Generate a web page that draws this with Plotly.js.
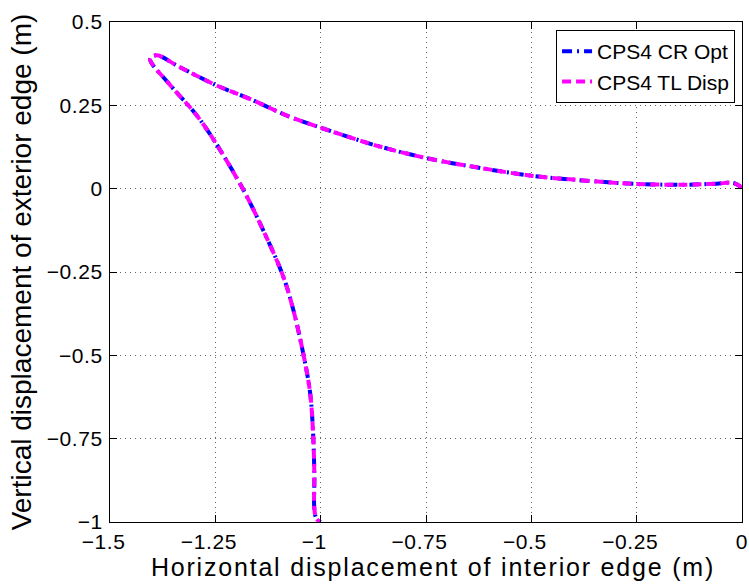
<!DOCTYPE html>
<html>
<head>
<meta charset="utf-8">
<script src="https://cdn.plot.ly/plotly-3.0.1.min.js"></script>
<style>
  html, body { margin: 0; padding: 0; background: #fff; }
  #chart { width: 749px; height: 584px; }
  .xtitle { letter-spacing: 1.8px; }
  .g-xtitle { transform: translateX(7px); }
  .xtick text, .ytick text { letter-spacing: 0.6px; }
</style>
</head>
<body>
<div id="chart"></div>
<script>
// Series
const seriesNames = ["CPS4 CR Opt", "CPS4 TL Disp"];

const xCR = [0, -0.02, -0.06, -0.13, -0.25, -0.37, -0.5, -0.62, -0.75, -0.87, -0.95, -0.998, -1.076, -1.164, -1.251, -1.338, -1.389, -1.405, -1.358, -1.302, -1.267, -1.188, -1.137, -1.089, -1.065, -1.04, -1.025, -1.018, -1.015, -1.015, -1.01, -1.0];
const yCR = [0.003, 0.017, 0.015, 0.012, 0.014, 0.024, 0.039, 0.062, 0.092, 0.13, 0.162, 0.182, 0.217, 0.267, 0.312, 0.367, 0.4, 0.39, 0.312, 0.232, 0.172, 0.007, -0.123, -0.263, -0.363, -0.503, -0.613, -0.733, -0.863, -0.96, -0.99, -1.0];

const xTL = [0, -0.02, -0.06, -0.13, -0.25, -0.37, -0.5, -0.62, -0.75, -0.87, -0.95, -0.998, -1.076, -1.164, -1.251, -1.338, -1.389, -1.405, -1.358, -1.302, -1.267, -1.188, -1.137, -1.089, -1.065, -1.04, -1.025, -1.018, -1.015, -1.015, -1.01, -1.0];
const yTL = [0.003, 0.017, 0.015, 0.012, 0.014, 0.024, 0.039, 0.062, 0.092, 0.13, 0.162, 0.182, 0.217, 0.267, 0.312, 0.367, 0.4, 0.39, 0.312, 0.232, 0.172, 0.007, -0.123, -0.263, -0.363, -0.503, -0.613, -0.733, -0.863, -0.96, -0.99, -1.0];

const xTickVals = [-1.5, -1.25, -1, -0.75, -0.5, -0.25, 0];
const xTickText = ["\u22121.5", "\u22121.25", "\u22121", "\u22120.75", "\u22120.5", "\u22120.25", "0"];
const yTickVals = [-1, -0.75, -0.5, -0.25, 0, 0.25, 0.5];
const yTickText = ["\u22121", "\u22120.75", "\u22120.5", "\u22120.25", "0", "0.25", "0.5"];

const xTitle = "Horizontal displacement of interior edge (m)";
const yTitle = "Vertical displacement of exterior edge (m)";

const FONT = "'Liberation Sans', Arial, Helvetica, sans-serif";

// MATLAB centres the number and lets the minus sign hang to the left:
// pad negative labels on the right by the width of the minus sign.
const xTickShown = xTickText.map(t => t.startsWith("\u2212") ? t + "\u00a0\u00a0" : t);

const traces = [
  {
    x: xCR, y: yCR, name: seriesNames[0], mode: "lines",
    line: { color: "#0000ff", width: 4, dash: "10px,5px,2px,5px", shape: "spline", smoothing: 1 }
  },
  {
    x: xTL, y: yTL, name: seriesNames[1], mode: "lines",
    line: { color: "#ff00ff", width: 4, dash: "9px,5px", shape: "spline", smoothing: 1 }
  }
];

const axisCommon = {
  showline: true, linecolor: "#000", linewidth: 1, mirror: "ticks",
  ticks: "inside", ticklen: 7, tickcolor: "#000", tickwidth: 1,
  showgrid: true, gridcolor: "#666", gridwidth: 1, griddash: "1px,4px",
  zeroline: false, tickmode: "array",
  tickfont: { family: FONT, size: 21, color: "#000" }
};

const layout = {
  width: 749, height: 584,
  margin: { l: 110, r: 7, t: 22, b: 62 },
  paper_bgcolor: "#fff", plot_bgcolor: "#fff",
  showlegend: true,
  font: { family: FONT, color: "#000" },
  xaxis: Object.assign({}, axisCommon, {
    range: [-1.5, 0], tickvals: xTickVals, ticktext: xTickShown,
    ticklabelstandoff: 1,
    title: { text: xTitle, font: { family: FONT, size: 25, color: "#000" }, standoff: 6 }
  }),
  yaxis: Object.assign({}, axisCommon, {
    range: [-1, 0.5], tickvals: yTickVals, ticktext: yTickText,
    ticklabelstandoff: 2,
    title: { text: yTitle, font: { family: FONT, size: 28, color: "#000" }, standoff: 6 }
  }),
  legend: {
    x: 0.989, xanchor: "right", y: 0.984, yanchor: "top",
    bgcolor: "#fff", bordercolor: "#000", borderwidth: 1,
    font: { family: FONT, size: 21, color: "#000" },
    tracegroupgap: 0
  }
};

Plotly.newPlot("chart", traces, layout, { displayModeBar: false, staticPlot: true });
</script>
</body>
</html>
